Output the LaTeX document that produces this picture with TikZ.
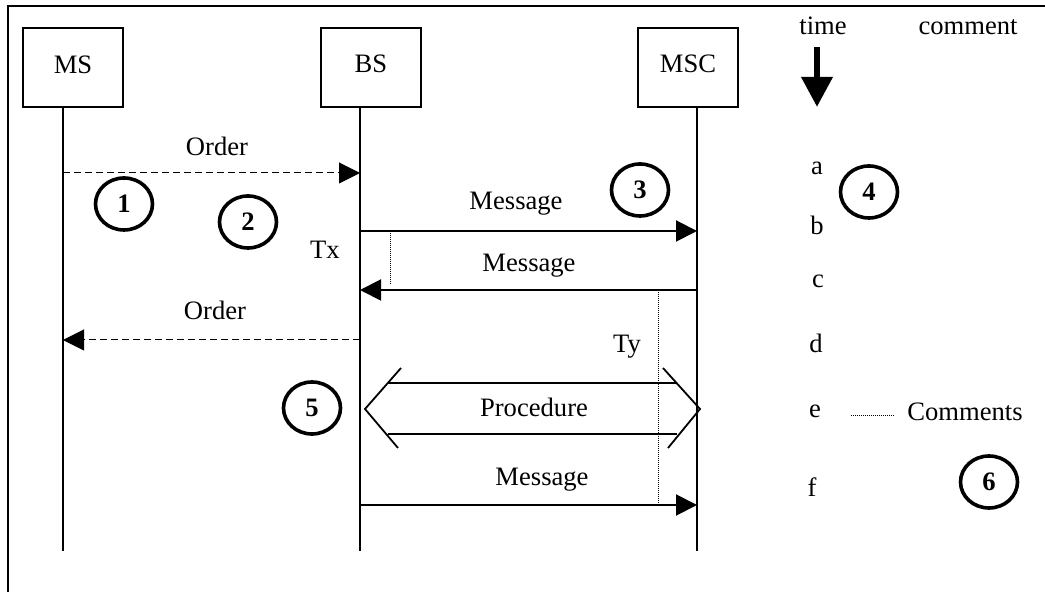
\documentclass[tikz,border=0pt]{standalone}
\usepackage{fontspec}
\setmainfont{Liberation Serif}
\usetikzlibrary{arrows.meta,shapes.geometric}
\begin{document}
\begin{tikzpicture}[x=0.5pt,y=-0.5pt,
  every node/.style={font=\fontsize{13.3}{16}\selectfont, inner sep=0pt},
  entity/.style={draw, line width=0.8pt, minimum width=50pt, minimum height=39.5pt},
  lifeline/.style={line width=0.7pt},
  msg/.style={line width=1pt, -{Triangle[length=10.5pt,width=10.5pt]}},
  ordermsg/.style={line width=0.5pt, dash pattern=on 3.3pt off 2.2pt, -{Triangle[length=10.5pt,width=10.5pt]}},
  lbl/.style={anchor=base},
  num/.style={draw, ellipse, line width=1.8pt, minimum width=28.5pt, minimum height=26pt, font=\fontsize{13.3}{16}\selectfont\bfseries},
  timer/.style={line width=0.4pt, dash pattern=on 0.5pt off 0.5pt},
  proc/.style={line width=0.9pt},
  frameline/.style={line width=1.3pt},
  timearrow/.style={line width=3.3pt, -{Triangle[length=15pt,width=15pt]}}
]
\useasboundingbox (0,0) rectangle (1045,592);
% frame (left and top edges)
\coordinate (fTR) at (1046,6);
\coordinate (fTL) at (8,6);
\coordinate (fBL) at (8,593);
\draw[frameline] (fTR) -- (fTL) -- (fBL);

% entities
\node[entity] (ms) at (73,67.5) {};
\node[lbl] (mst) at (73,74) {MS};
\node[entity] (bs) at (371,67.5) {};
\node[lbl] (bst) at (371,73) {BS};
\node[entity] (msc) at (688,67.5) {};
\node[lbl] (msct) at (688,73) {MSC};

% lifelines
\coordinate (msTop) at (63,107);   \coordinate (msBot) at (63,551);
\coordinate (bsTop) at (360,107);  \coordinate (bsBot) at (360,551);
\coordinate (mscTop) at (697,107); \coordinate (mscBot) at (697,551);
\draw[lifeline] (msTop) -- (msBot);
\draw[lifeline] (bsTop) -- (bsBot);
\draw[lifeline] (mscTop) -- (mscBot);

% events on lifelines
\coordinate (ms1) at (63,173);  \coordinate (bs1) at (360,173);
\coordinate (bs2) at (360,231); \coordinate (msc2) at (697,231);
\coordinate (msc3) at (697,290); \coordinate (bs3) at (360,290);
\coordinate (bs4) at (360,340); \coordinate (ms4) at (63,340);
\coordinate (bs6) at (360,505); \coordinate (msc6) at (697,505);

\draw[ordermsg] (ms1) -- (bs1);
\node[lbl] (l1) at (217,156) {Order};
\draw[msg] (bs2) -- (msc2);
\node[lbl] (l2) at (516,210) {Message};
\draw[msg] (msc3) -- (bs3);
\node[lbl] (l3) at (529,272) {Message};
\draw[ordermsg] (bs4) -- (ms4);
\node[lbl] (l4) at (215,320) {Order};
\draw[msg] (bs6) -- (msc6);
\node[lbl] (l6) at (542,486) {Message};

% procedure
\coordinate (pUL) at (388,383); \coordinate (pUR) at (677,383);
\coordinate (pLL) at (388,434); \coordinate (pLR) at (677,434);
\coordinate (cl1) at (401,368); \coordinate (clt) at (365,409); \coordinate (cl2) at (398,448);
\coordinate (cr1) at (663,368); \coordinate (crt) at (700,409); \coordinate (cr2) at (668,448);
\draw[proc] (pUL) -- (pUR);
\draw[proc] (pLL) -- (pLR);
\draw[proc] (cl1) -- (clt) -- (cl2);
\draw[proc] (cr1) -- (crt) -- (cr2);
\node[lbl] (lp) at (534,417) {Procedure};

% timers
\coordinate (tx1) at (390,231); \coordinate (tx2) at (390,285);
\draw[timer] (tx1) -- (tx2);
\node[lbl] (txl) at (325,259) {Tx};
\coordinate (ty1) at (658,290); \coordinate (ty2) at (658,503);
\draw[timer] (ty1) -- (ty2);
\node[lbl] (tyl) at (627,353) {Ty};

% numbered circles
\node[num] (n1) at (124,204) {1};
\node[num] (n2) at (248,222) {2};
\node[num] (n3) at (640,190) {3};
\node[num] (n4) at (869,192) {4};
\node[num] (n5) at (312,408) {5};
\node[num] (n6) at (989,482) {6};

% time / comment column
\node[lbl] (time) at (823,35) {time};
\node[lbl] (comment) at (968,35) {comment};
\coordinate (ta1) at (817,47); \coordinate (ta2) at (817,107);
\draw[timearrow] (ta1) -- (ta2);
\node[lbl] (ta) at (817,175) {a};
\node[lbl] (tb) at (817,235) {b};
\node[lbl] (tc) at (818,288) {c};
\node[lbl] (td) at (816,353) {d};
\node[lbl] (te) at (815,418) {e};
\node[lbl] (tf) at (812,497) {f};
\node[lbl] (cm) at (965,421) {Comments};
\coordinate (cd1) at (851,415); \coordinate (cd2) at (894,415);
\draw[timer] (cd1) -- (cd2);
\end{tikzpicture}
\end{document}
